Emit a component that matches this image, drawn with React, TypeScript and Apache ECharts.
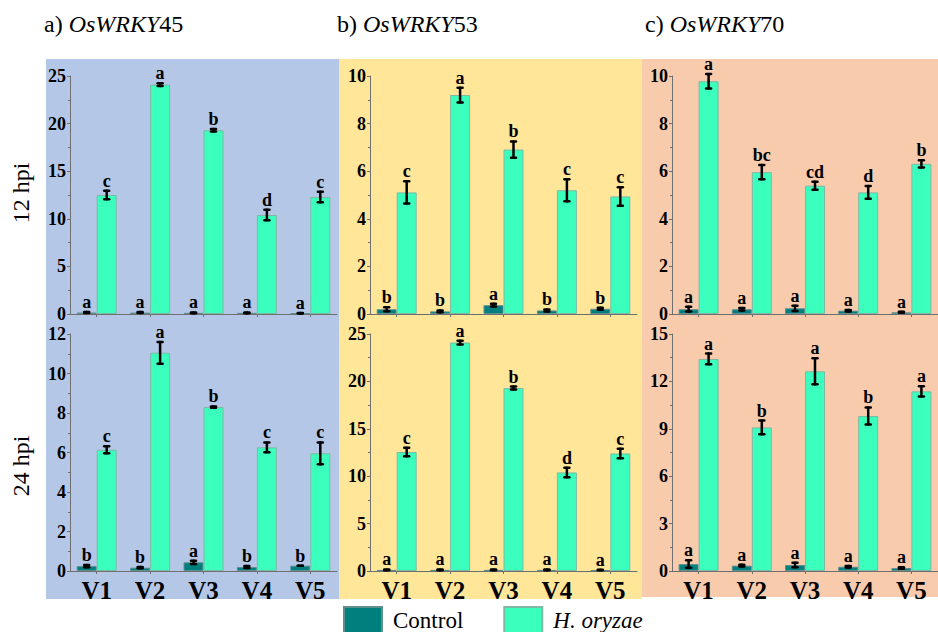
import React, { useEffect, useRef } from "react";
import * as echarts from "echarts";

// ---------- data ----------
const categories = ["V1", "V2", "V3", "V4", "V5"];

// a) OsWRKY45, 12 hpi
const w45_12_control = [0.15, 0.15, 0.12, 0.12, 0.08];
const w45_12_controlErr = [0.05, 0.05, 0.04, 0.04, 0.03];
const w45_12_oryzae = [12.5, 24.1, 19.3, 10.4, 12.3];
const w45_12_oryzaeErr = [0.45, 0.15, 0.12, 0.55, 0.55];
const w45_12_controlLetters = ["a", "a", "a", "a", "a"];
const w45_12_oryzaeLetters = ["c", "a", "b", "d", "c"];

// a) OsWRKY45, 24 hpi
const w45_24_control = [0.25, 0.17, 0.44, 0.2, 0.27];
const w45_24_controlErr = [0.06, 0.03, 0.08, 0.05, 0.0];
const w45_24_oryzae = [6.14, 11.05, 8.3, 6.26, 5.96];
const w45_24_oryzaeErr = [0.18, 0.55, 0.03, 0.25, 0.55];
const w45_24_controlLetters = ["b", "b", "a", "b", "b"];
const w45_24_oryzaeLetters = ["c", "a", "b", "c", "c"];

// b) OsWRKY53, 12 hpi
const w53_12_control = [0.2, 0.11, 0.37, 0.15, 0.22];
const w53_12_controlErr = [0.08, 0.04, 0.06, 0.04, 0.04];
const w53_12_oryzae = [5.11, 9.2, 6.91, 5.2, 4.94];
const w53_12_oryzaeErr = [0.47, 0.31, 0.34, 0.46, 0.39];
const w53_12_controlLetters = ["b", "b", "a", "b", "b"];
const w53_12_oryzaeLetters = ["c", "a", "b", "c", "c"];

// b) OsWRKY53, 24 hpi
const w53_24_control = [0.12, 0.12, 0.12, 0.12, 0.1];
const w53_24_controlErr = [0.04, 0.04, 0.04, 0.04, 0.03];
const w53_24_oryzae = [12.55, 24.1, 19.3, 10.4, 12.4];
const w53_24_oryzaeErr = [0.45, 0.2, 0.15, 0.5, 0.5];
const w53_24_controlLetters = ["a", "a", "a", "a", "a"];
const w53_24_oryzaeLetters = ["c", "a", "b", "d", "c"];

// c) OsWRKY70, 12 hpi
const w70_12_control = [0.2, 0.2, 0.24, 0.14, 0.07];
const w70_12_controlErr = [0.1, 0.05, 0.11, 0.03, 0.02];
const w70_12_oryzae = [9.78, 5.96, 5.39, 5.11, 6.31];
const w70_12_oryzaeErr = [0.3, 0.3, 0.17, 0.27, 0.15];
const w70_12_controlLetters = ["a", "a", "a", "a", "a"];
const w70_12_oryzaeLetters = ["a", "bc", "cd", "d", "b"];

// c) OsWRKY70, 24 hpi
const w70_24_control = [0.44, 0.34, 0.38, 0.27, 0.19];
const w70_24_controlErr = [0.24, 0.05, 0.15, 0.05, 0.05];
const w70_24_oryzae = [13.42, 9.09, 12.64, 9.81, 11.37];
const w70_24_oryzaeErr = [0.34, 0.43, 0.82, 0.54, 0.32];
const w70_24_controlLetters = ["a", "a", "a", "a", "a"];
const w70_24_oryzaeLetters = ["a", "b", "a", "b", "a"];

// y axis scales per panel
const yMaxes = [25, 12, 10, 25, 10, 15];
const yIntervals = [5, 2, 2, 5, 2, 3];

const seriesNames = ["Control", "H. oryzae"];
const geneTitles = ["a) ", "b) ", "c) "];
const geneNumbers = ["45", "53", "70"];
const rowLabels = ["12 hpi", "24 hpi"];

// ---------- layout / style ----------
const FONT = "'Liberation Serif', 'Times New Roman', 'DejaVu Serif', serif";
const CONTROL_COLOR = "#007f7f";
const ORYZAE_COLOR = "#3affbd";
const BG_COLORS = ["#b4c7e7", "#ffe699", "#f8cbad"];

const panels = [
  { c: w45_12_control, ce: w45_12_controlErr, o: w45_12_oryzae, oe: w45_12_oryzaeErr, cl: w45_12_controlLetters, ol: w45_12_oryzaeLetters },
  { c: w45_24_control, ce: w45_24_controlErr, o: w45_24_oryzae, oe: w45_24_oryzaeErr, cl: w45_24_controlLetters, ol: w45_24_oryzaeLetters },
  { c: w53_12_control, ce: w53_12_controlErr, o: w53_12_oryzae, oe: w53_12_oryzaeErr, cl: w53_12_controlLetters, ol: w53_12_oryzaeLetters },
  { c: w53_24_control, ce: w53_24_controlErr, o: w53_24_oryzae, oe: w53_24_oryzaeErr, cl: w53_24_controlLetters, ol: w53_24_oryzaeLetters },
  { c: w70_12_control, ce: w70_12_controlErr, o: w70_12_oryzae, oe: w70_12_oryzaeErr, cl: w70_12_controlLetters, ol: w70_12_oryzaeLetters },
  { c: w70_24_control, ce: w70_24_controlErr, o: w70_24_oryzae, oe: w70_24_oryzaeErr, cl: w70_24_controlLetters, ol: w70_24_oryzaeLetters },
];

const gridBoxes = [
  { left: 70, top: 76, width: 267, height: 238 },
  { left: 70, top: 334, width: 267, height: 237 },
  { left: 370, top: 76, width: 267, height: 238 },
  { left: 370, top: 334, width: 267, height: 237 },
  { left: 672, top: 76, width: 266, height: 238 },
  { left: 672, top: 334, width: 266, height: 237 },
];

function buildOption() {
  const grid = gridBoxes.map((g) => ({ ...g, show: false, containLabel: false }));
  const xAxis = gridBoxes.map((_, k) => ({
    type: "category",
    gridIndex: k,
    data: categories,
    axisLine: { show: true, lineStyle: { color: "#6f6f6f", width: 1 } },
    axisTick: { show: true, alignWithLabel: true, interval: 0, length: 3, lineStyle: { color: "#6f6f6f" } },
    axisLabel: {
      show: k % 2 === 1,
      interval: 0,
      margin: 7,
      fontFamily: FONT,
      fontWeight: "bold",
      fontSize: 25,
      color: "#000",
    },
    splitLine: { show: false },
  }));
  const yAxis = gridBoxes.map((_, k) => ({
    type: "value",
    gridIndex: k,
    min: 0,
    max: yMaxes[k],
    interval: yIntervals[k],
    axisLine: { show: true, lineStyle: { color: "#6f6f6f", width: 1 } },
    axisTick: { show: true, length: 3, lineStyle: { color: "#6f6f6f" } },
    minorTick: { show: true, splitNumber: 2, length: 2, lineStyle: { color: "#6f6f6f" } },
    splitLine: { show: false },
    axisLabel: {
      margin: 4,
      fontFamily: FONT,
      fontWeight: "bold",
      fontSize: 18,
      color: "#000",
    },
  }));

  const series: any[] = [];
  panels.forEach((p, k) => {
    series.push({
      type: "bar",
      name: seriesNames[0],
      xAxisIndex: k,
      yAxisIndex: k,
      data: p.c,
      barWidth: 20,
      barGap: "0%",
      itemStyle: { color: CONTROL_COLOR, borderColor: "#5f8f8f", borderWidth: 1 },
    });
    series.push({
      type: "bar",
      name: seriesNames[1],
      xAxisIndex: k,
      yAxisIndex: k,
      data: p.o,
      barWidth: 20,
      barGap: "0%",
      itemStyle: { color: ORYZAE_COLOR, borderColor: "#7fb8a4", borderWidth: 1 },
    });
    const errData = [
      ...p.c.map((v, i) => [i, v, p.ce[i], -1]),
      ...p.o.map((v, i) => [i, v, p.oe[i], 1]),
    ];
    const letters = [...p.cl, ...p.ol];
    series.push({
      type: "custom",
      xAxisIndex: k,
      yAxisIndex: k,
      z: 10,
      silent: true,
      data: errData,
      encode: { x: 0, y: 1 },
      renderItem: (params: any, api: any) => {
        const i = api.value(0);
        const v = api.value(1);
        const e = api.value(2);
        const side = api.value(3);
        const top = api.coord([i, v + e]);
        const bot = api.coord([i, Math.max(0, v - e)]);
        const x = top[0] + side * 10;
        const lw = 2.5;
        const half = 2.5;
        return {
          type: "group",
          children: [
            { type: "line", shape: { x1: x, y1: top[1], x2: x, y2: bot[1] }, style: { stroke: "#000", lineWidth: lw, lineCap: "round" } },
            { type: "line", shape: { x1: x - half, y1: top[1], x2: x + half, y2: top[1] }, style: { stroke: "#000", lineWidth: lw, lineCap: "round" } },
            { type: "line", shape: { x1: x - half, y1: bot[1], x2: x + half, y2: bot[1] }, style: { stroke: "#000", lineWidth: lw, lineCap: "round" } },
            {
              type: "text",
              style: {
                text: letters[params.dataIndex],
                x: x,
                y: top[1] - 1,
                align: "center",
                verticalAlign: "bottom",
                fontFamily: FONT,
                fontWeight: "bold",
                fontSize: 18,
                fill: "#000",
              },
            },
          ],
        };
      },
    });
  });

  const graphic: any[] = [
    { type: "rect", z: -10, shape: { x: 46, y: 59, width: 293, height: 540 }, style: { fill: BG_COLORS[0] } },
    { type: "rect", z: -10, shape: { x: 339, y: 59, width: 303, height: 540 }, style: { fill: BG_COLORS[1] } },
    { type: "rect", z: -10, shape: { x: 642, y: 59, width: 296, height: 538 }, style: { fill: BG_COLORS[2] } },
  ];
  const titleX = [44, 337, 645];
  geneTitles.forEach((t, j) => {
    graphic.push({
      type: "text",
      x: titleX[j],
      y: 24,
      style: {
        text: `{r|${t}}{i|OsWRKY}{r|${geneNumbers[j]}}`,
        verticalAlign: "middle",
        rich: {
          r: { fontFamily: FONT, fontSize: 24, fill: "#000" },
          i: { fontFamily: FONT, fontSize: 24, fontStyle: "italic", fill: "#000" },
        },
      },
    });
  });
  const rowY = [193, 466];
  rowLabels.forEach((t, j) => {
    graphic.push({
      type: "text",
      x: 21,
      y: rowY[j],
      rotation: Math.PI / 2,
      style: { text: t, align: "center", verticalAlign: "middle", fontFamily: FONT, fontSize: 24, fill: "#000" },
    });
  });

  return {
    animation: false,
    textStyle: { fontFamily: FONT },
    grid,
    xAxis,
    yAxis,
    series,
    graphic,
    legend: {
      left: 338,
      top: 601,
      itemWidth: 38,
      itemHeight: 26,
      itemGap: 40,
      icon: "rect",
      data: seriesNames,
      selectedMode: false,
      formatter: (name: string) => (name === "H. oryzae" ? "{i|H. oryzae}" : name),
      textStyle: {
        fontFamily: FONT,
        fontSize: 23,
        lineHeight: 23,
        color: "#000",
        padding: [0, 0, 0, 6],
        rich: { i: { fontFamily: FONT, fontSize: 23, lineHeight: 23, fontStyle: "italic", color: "#000" } },
      },
    },
  };
}

export default function App() {
  const ref = useRef<HTMLDivElement>(null);
  useEffect(() => {
    if (!ref.current) return;
    const chart = echarts.init(ref.current, undefined, { renderer: "svg" });
    chart.setOption(buildOption() as any);
    return () => chart.dispose();
  }, []);
  return (
    <div
      ref={ref}
      style={{ position: "fixed", left: 0, top: 0, width: 938, height: 632, background: "#fff" }}
    />
  );
}
